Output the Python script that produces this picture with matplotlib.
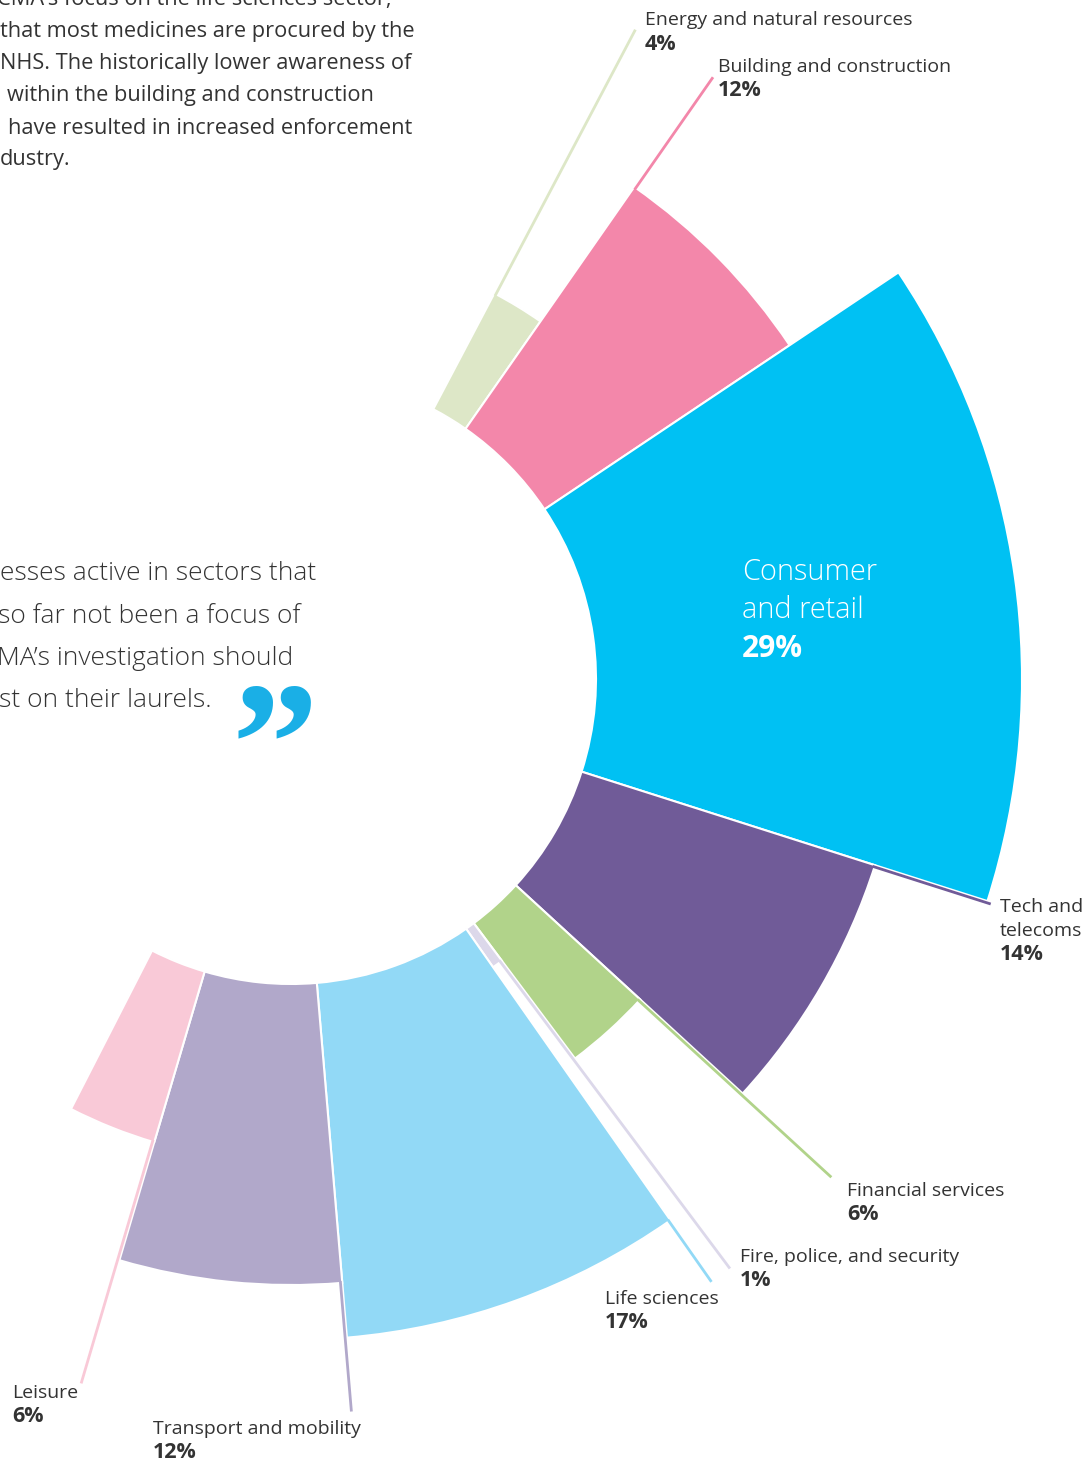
import numpy as np
import matplotlib.pyplot as plt
from matplotlib.patches import Wedge

plt.rcParams['font.family'] = ['Open Sans', 'DejaVu Sans']

sectors = ['Energy and natural resources', 'Building and construction', 'Consumer\nand retail',
           'Tech and\ntelecoms', 'Financial services', 'Fire, police, and security',
           'Life sciences', 'Transport and mobility', 'Leisure']
shares = [4, 12, 29, 14, 6, 1, 17, 12, 6]
# how far each petal reaches out past the inner hole
depth = [131, 295, 426, 308, 169, 47, 356, 301, 178]
colors = ['#dde7c7', '#f387aa', '#00c1f3', '#705b98', '#b1d38a',
          '#dcd8ea', '#92d9f6', '#b1a8ca', '#f9c9d7']

W, H = 1092, 1463
cx, cy = 291, 679
r_in = 305
r_lead = 735
a0 = 62.2
deg = 179.3 / sum(shares)
ink = '#333333'

fig = plt.figure(figsize=(W / 100, H / 100), dpi=100)
ax = fig.add_axes([0, 0, 1, 1])
ax.set_xlim(0, W)
ax.set_ylim(H, 0)
ax.axis('off')

edges = a0 - deg * np.concatenate([[0], np.cumsum(shares)])

for i in range(len(shares)):
    a1, a2 = edges[i], edges[i + 1]
    ax.add_patch(Wedge((cx, cy), r_in + depth[i], -a1, -a2, width=depth[i],
                       fc=colors[i], ec='white', lw=1.5, zorder=2))

# leader lines run out along the leading edge of each petal
for i in range(len(shares)):
    if i == 2:
        continue
    a = np.radians(edges[i])
    off = 1.8 * np.array([np.sin(a), np.cos(a)])
    r = np.array([r_in + depth[i] - 2, r_lead])
    xs = cx + r * np.cos(a) + off[0]
    ys = cy - r * np.sin(a) + off[1]
    ax.plot(xs, ys, color=colors[i], lw=2, zorder=3, solid_capstyle='butt')

# label blocks: left x, centre y of first line
label_xy = [(645, 20), (718, 67), None, (1000, 907), (847, 1191),
            (740, 1257), (605, 1299), (153, 1429), (12, 1393)]
for i, pos in enumerate(label_xy):
    if pos is None:
        continue
    x, y = pos
    lines = sectors[i].split('\n')
    for k, s in enumerate(lines):
        ax.text(x, y + 24 * k, s, fontsize=14, color=ink, va='center', ha='left', zorder=4)
    ax.text(x, y + 24 * len(lines), f'{shares[i]}%', fontsize=15.5, fontweight='bold',
            color=ink, va='center', ha='left', zorder=4)

# big label inside the consumer petal
for k, s in enumerate(sectors[2].split('\n')):
    ax.text(742, 572 + 38.5 * k, s, fontsize=20.8, fontweight='light', color='white',
            va='center', ha='left', zorder=4)
ax.text(742, 649, f'{shares[2]}%', fontsize=21.5, fontweight='bold', color='white',
        va='center', ha='left', zorder=4)

# body copy running off the top left
body = [(-3, "CMA\u2019s focus on the life sciences sector,"),
        (0, "that most medicines are procured by the"),
        (0, "NHS. The historically lower awareness of"),
        (7, "within the building and construction"),
        (8, "have resulted in increased enforcement"),
        (0, "dustry.")]
for k, (x, s) in enumerate(body):
    ax.text(x, 0 + 32 * k, s, fontsize=15.7, color=ink, va='center', ha='left')

quote = [(0, "esses active in sectors that"),
         (-2, "so far not been a focus of"),
         (-3, "MA\u2019s investigation should"),
         (-1, "st on their laurels.")]
for k, (x, s) in enumerate(quote):
    ax.text(x, 574 + 42.3 * k, s, fontsize=19, fontweight='light', color=ink,
            va='center', ha='left')

ax.text(275, 801, '\u201d', fontsize=125, fontweight='bold', family='Liberation Serif',
        color='#1aafe6', ha='center', va='baseline')

fig.savefig('out.png', dpi=100)
